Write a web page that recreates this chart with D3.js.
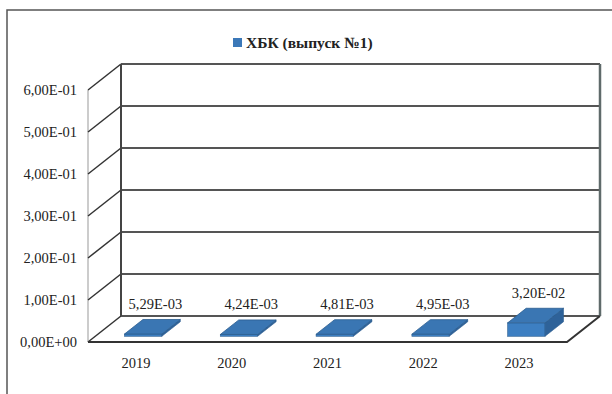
<!DOCTYPE html>
<html lang="ru">
<head>
  <meta charset="UTF-8">
  <title>ХБК (выпуск №1)</title>
  <script src="https://d3js.org/d3.v7.min.js"></script>
  <style>
    body { margin: 0; background: #fff; }
    svg text { font-family: "Liberation Serif", "DejaVu Serif", serif; fill: #222; }
    .tick-label { font-size: 14.5px; }
    .cat-label { font-size: 14.5px; }
    .val-label { font-size: 14.5px; }
    .legend-text { font-size: 15.5px; font-weight: bold; }
  </style>
</head>
<body>
  <svg width="612" height="394"></svg>
  <script>
    // data
    const years = ["2019", "2020", "2021", "2022", "2023"];
    const values = [0.00529, 0.00424, 0.00481, 0.00495, 0.032];
    const yTicks = [0, 0.1, 0.2, 0.3, 0.4, 0.5, 0.6];
    const seriesName = "ХБК (выпуск №1)";

    const width = 612, height = 394;
    // depth of the 3d box (back wall offset)
    const depthX = 33, depthY = -26;
    const barFront = 0.22, barBack = 0.78;

    const svg = d3.select("svg");

    const x = d3.scaleBand()
        .domain(years)
        .range([88, 567])
        .paddingInner(0.61)
        .paddingOuter(0.305);

    const y = d3.scaleLinear()
        .domain([0, 0.6])
        .range([342, 90]);

    // "5.29e-3" -> "5,29E-03"
    function fmtE(v) {
      const s = v.toExponential(2);
      const parts = s.split("e");
      const mant = parts[0].replace(".", ",");
      let exp = parseInt(parts[1], 10);
      const sign = exp < 0 ? "-" : "+";
      exp = Math.abs(exp);
      return mant + "E" + sign + (exp < 10 ? "0" + exp : exp);
    }

    // outer frame (only top & left visible)
    svg.append("path")
        .attr("d", "M7,394 L7,10 L612,10")
        .attr("fill", "none")
        .attr("stroke", "#555")
        .attr("stroke-width", 1.5);

    // legend
    const legend = svg.append("g");
    legend.append("rect")
        .attr("x", 233).attr("y", 38)
        .attr("width", 9).attr("height", 9)
        .attr("fill", "#3b78b8");
    legend.append("text")
        .attr("class", "legend-text")
        .attr("x", 246).attr("y", 48)
        .text(seriesName);

    const x0 = x.range()[0], x1 = x.range()[1];
    const yTop = y(d3.max(yTicks)), yBase = y(0);

    const grid = svg.append("g");

    // left front axis line
    grid.append("line")
        .attr("x1", x0).attr("x2", x0)
        .attr("y1", yTop).attr("y2", yBase)
        .attr("stroke", "#999").attr("stroke-width", 1);

    // diagonal ticks on side wall + back gridlines
    yTicks.forEach(t => {
      grid.append("line")
          .attr("x1", x0).attr("y1", y(t))
          .attr("x2", x0 + depthX).attr("y2", y(t) + depthY)
          .attr("stroke", "#333").attr("stroke-width", 1.5);
      grid.append("line")
          .attr("x1", x0 + depthX).attr("y1", y(t) + depthY)
          .attr("x2", x1 + depthX).attr("y2", y(t) + depthY)
          .attr("stroke", "#555").attr("stroke-width", 2);
    });

    // back wall verticals
    grid.append("line")
        .attr("x1", x0 + depthX).attr("x2", x0 + depthX)
        .attr("y1", yTop + depthY).attr("y2", yBase + depthY)
        .attr("stroke", "#444").attr("stroke-width", 2);
    grid.append("line")
        .attr("x1", x1 + depthX).attr("x2", x1 + depthX)
        .attr("y1", yTop + depthY).attr("y2", yBase + depthY)
        .attr("stroke", "#5f6a6a").attr("stroke-width", 2.5);

    // floor front edge & right diagonal
    grid.append("path")
        .attr("d", `M${x0},${yBase} L${x1},${yBase} L${x1 + depthX},${yBase + depthY}`)
        .attr("fill", "none")
        .attr("stroke", "#333").attr("stroke-width", 2);

    // tick labels
    svg.append("g").selectAll("text")
        .data(yTicks)
        .join("text")
        .attr("class", "tick-label")
        .attr("x", 77)
        .attr("y", d => y(d) + 5)
        .attr("text-anchor", "end")
        .text(d => fmtE(d));

    // category labels
    svg.append("g").selectAll("text")
        .data(years)
        .join("text")
        .attr("class", "cat-label")
        .attr("x", d => x(d) + x.bandwidth() / 2)
        .attr("y", 368)
        .attr("text-anchor", "middle")
        .text(d => d);

    // 3d bars
    const fx = barFront * depthX, fy = barFront * depthY;
    const bx = barBack * depthX, by = barBack * depthY;
    const bars = svg.append("g").selectAll("g")
        .data(years.map((yr, i) => ({ year: yr, value: values[i] })))
        .join("g");

    // front face
    bars.append("rect")
        .attr("x", d => x(d.year) + fx)
        .attr("y", d => y(d.value) + fy)
        .attr("width", x.bandwidth())
        .attr("height", d => y(0) - y(d.value))
        .attr("fill", "#3d7fc2")
        .attr("stroke", "#2b5d8f").attr("stroke-width", 0.6);

    // right side
    bars.append("path")
        .attr("d", d => {
          const r = x(d.year) + x.bandwidth();
          return `M${r + fx},${y(d.value) + fy} L${r + bx},${y(d.value) + by} ` +
                 `L${r + bx},${y(0) + by} L${r + fx},${y(0) + fy} Z`;
        })
        .attr("fill", "#2e6299")
        .attr("stroke", "#2b5d8f").attr("stroke-width", 0.6);

    // top face
    bars.append("path")
        .attr("d", d => {
          const l = x(d.year), r = l + x.bandwidth(), yt = y(d.value);
          return `M${l + fx},${yt + fy} L${r + fx},${yt + fy} L${r + bx},${yt + by} L${l + bx},${yt + by} Z`;
        })
        .attr("fill", "#3a76b3")
        .attr("stroke", "#2b5d8f").attr("stroke-width", 0.8);

    // value labels
    bars.append("text")
        .attr("class", "val-label")
        .attr("x", d => x(d.year) + x.bandwidth() / 2 + depthX / 2 + 3)
        .attr("y", d => y(d.value) + depthY / 2 - 18)
        .attr("text-anchor", "middle")
        .text(d => fmtE(d.value));
  </script>
</body>
</html>
